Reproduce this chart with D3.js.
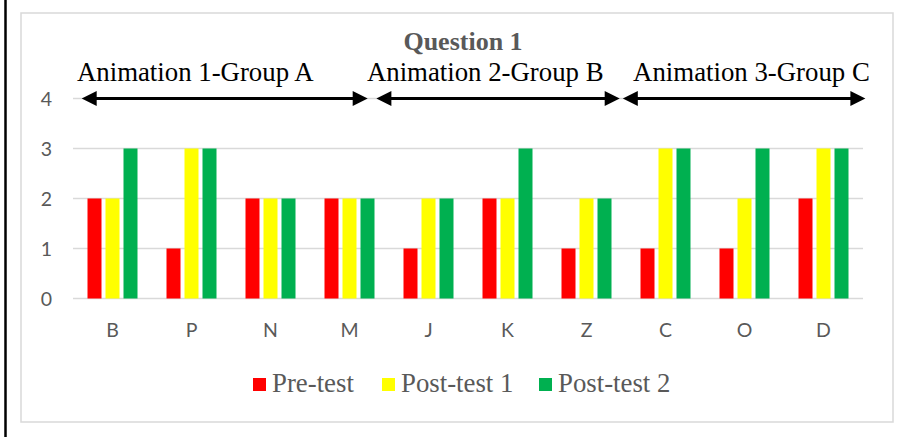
<!DOCTYPE html>
<html><head><meta charset="utf-8">
<script src="https://cdn.jsdelivr.net/npm/d3@7"></script>
<style>html,body{margin:0;padding:0;background:#fff;}svg{display:block;}</style>
</head><body>
<script>
const categories = ["B","P","N","M","J","K","Z","C","O","D"];
const seriesNames = ["Pre-test","Post-test 1","Post-test 2"];
const preTest   = [2,1,2,2,1,2,1,1,1,2];
const postTest1 = [2,3,2,2,2,2,2,3,2,3];
const postTest2 = [3,3,2,2,2,3,2,3,3,3];
const seriesColors = ["#FF0000","#FFFF00","#00B050"];
const yTicks = [0,1,2,3,4];
const title = "Question 1";
// group annotations: span in category units (0..10)
const groupLabels = ["Animation 1-Group A","Animation 2-Group B","Animation 3-Group C"];
const groupArrowStart = [0.11, 3.84, 6.96];
const groupArrowEnd   = [3.73, 6.92, 10.03];
const groupLabelStart = [0.05, 3.72, 7.09];

const W = 904, H = 437;
const svg = d3.select("body").append("svg").attr("width", W).attr("height", H);
svg.append("rect").attr("width", W).attr("height", H).attr("fill", "#fff");

// outer cell border (left)
svg.append("line").attr("x1",5.5).attr("x2",5.5).attr("y1",0).attr("y2",H)
  .attr("stroke","#000").attr("stroke-width",2.5);

// chart area border
svg.append("rect").attr("x",21).attr("y",13).attr("width",872).attr("height",409)
  .attr("fill","#fff").attr("stroke","#d9d9d9").attr("stroke-width",1.5);

const plotL = 73, plotR = 863;
const y = d3.scaleLinear().domain([0,4]).range([298.5, 98.5]);
const x0 = d3.scaleBand().domain(categories).range([plotL, plotR]).paddingInner(0).paddingOuter(0);
const x1 = d3.scaleBand().domain(seriesNames).range([-27, 27]).paddingInner(4/18).paddingOuter(2/18);
const xc = d3.scaleLinear().domain([0, categories.length]).range([plotL, plotR]);

// gridlines
svg.append("g").selectAll("line").data(yTicks).join("line")
  .attr("x1", plotL).attr("x2", plotR)
  .attr("y1", d => y(d)).attr("y2", d => y(d))
  .attr("stroke", "#d9d9d9").attr("stroke-width", 1.5);

// y axis labels
const yAxis = d3.axisLeft(y).tickValues(yTicks).tickSize(0).tickPadding(0).tickFormat(d3.format("d"));
const gy = svg.append("g").attr("transform", `translate(52,0)`).call(yAxis);
gy.select(".domain").remove();
gy.selectAll("text").attr("font-family","Lato, 'Open Sans', sans-serif").attr("font-size","19.5px")
  .attr("fill","#595959").attr("dy","0.36em");

// bars
const seriesData = [preTest, postTest1, postTest2];
const rows = categories.map((c,i) => ({cat:c, vals: seriesNames.map((s,j)=>({s, v: seriesData[j][i], color: seriesColors[j]}))}));
const gBars = svg.append("g");
gBars.selectAll("g").data(rows).join("g")
  .attr("transform", d => `translate(${x0(d.cat) + x0.bandwidth()/2},0)`)
  .selectAll("rect").data(d => d.vals).join("rect")
  .attr("x", d => x1(d.s)).attr("width", x1.bandwidth())
  .attr("y", d => y(d.v)).attr("height", d => y(0) - y(d.v))
  .attr("fill", d => d.color);

// x axis labels
const xAxis = d3.axisBottom(x0).tickSize(0).tickPadding(0);
const gx = svg.append("g").attr("transform", `translate(0,337)`).call(xAxis);
gx.select(".domain").remove();
gx.selectAll("text").attr("font-family","Lato, 'Open Sans', sans-serif").attr("font-size","19.5px")
  .attr("fill","#595959").attr("dy","0");

// title
svg.append("text").attr("x", 463).attr("y", 50).attr("text-anchor","middle")
  .attr("font-family","'Liberation Serif', 'Times New Roman', serif").attr("font-weight","bold")
  .attr("font-size","26px").attr("fill","#595959").text(title);

// group annotations
const gAnn = svg.append("g");
groupLabels.forEach((lab, i) => {
  const xa = xc(groupArrowStart[i]), xb = xc(groupArrowEnd[i]), ya = y(4);
  const hl = 15, hh = 7.5;
  gAnn.append("line").attr("x1", xa + hl - 2).attr("x2", xb - hl + 2).attr("y1", ya).attr("y2", ya)
    .attr("stroke","#000").attr("stroke-width",3);
  gAnn.append("path").attr("d", `M${xa},${ya} L${xa+hl},${ya-hh} L${xa+hl},${ya+hh} Z`).attr("fill","#000");
  gAnn.append("path").attr("d", `M${xb},${ya} L${xb-hl},${ya-hh} L${xb-hl},${ya+hh} Z`).attr("fill","#000");
  gAnn.append("text").attr("x", xc(groupLabelStart[i])).attr("y", 81)
    .attr("font-family","'Liberation Serif', 'Times New Roman', serif")
    .attr("font-size","26.8px").attr("fill","#000").text(lab);
});

// legend
const legX = [253, 382, 539];
const gLeg = svg.append("g");
seriesNames.forEach((s, i) => {
  gLeg.append("rect").attr("x", legX[i]).attr("y", 378).attr("width", 13).attr("height", 13).attr("fill", seriesColors[i]);
  gLeg.append("text").attr("x", legX[i] + 19).attr("y", 392)
    .attr("font-family","'Liberation Serif', 'Times New Roman', serif")
    .attr("font-size","26.8px").attr("fill","#595959").text(s);
});
</script>
</body></html>
